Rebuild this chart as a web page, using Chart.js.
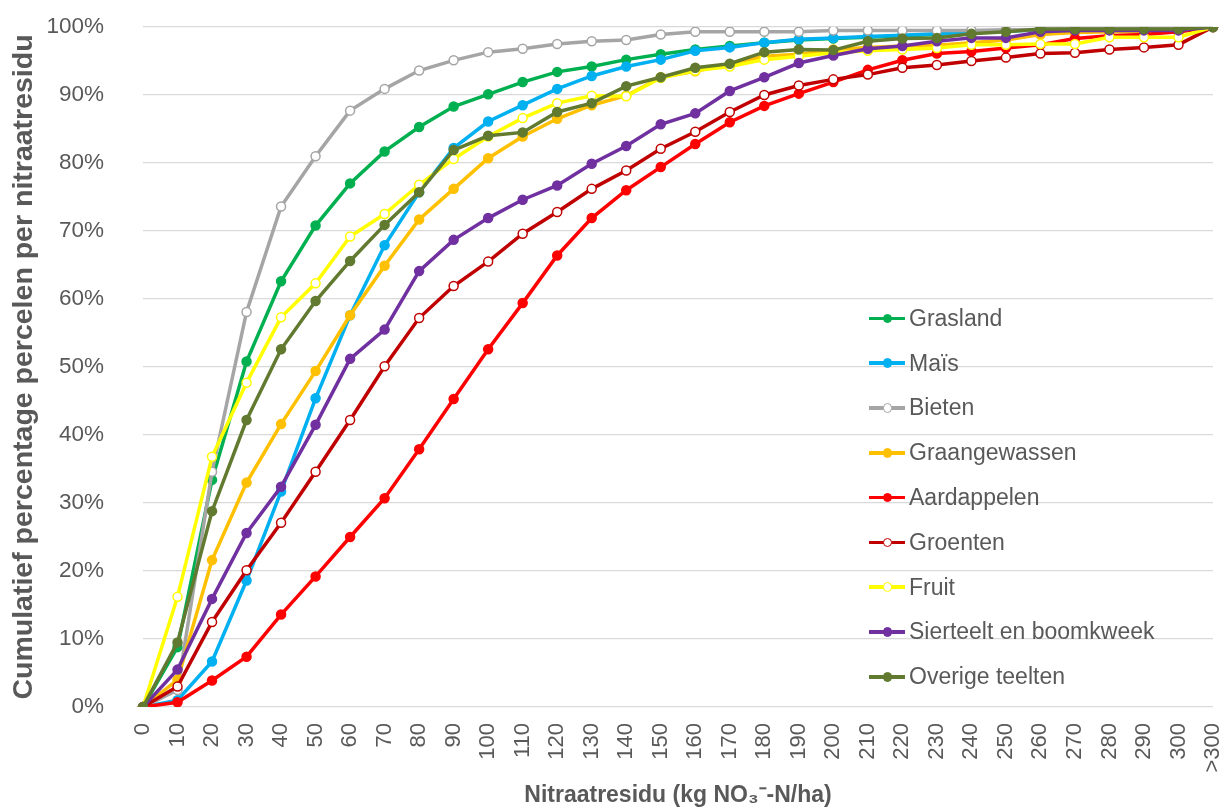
<!DOCTYPE html>
<html>
<head>
<meta charset="utf-8">
<title>Nitraatresidu per teelt</title>
<script src="https://cdn.jsdelivr.net/npm/chart.js@4.4.1/dist/chart.umd.min.js"></script>
<style>
    html, body { margin: 0; padding: 0; background: #fff; }
    #wrap { position: relative; width: 1219px; height: 809px; overflow: hidden; }
    #legend {
        position: absolute; left: 869px; top: 296px;
        font-family: 'Liberation Sans', Arial, sans-serif; font-size: 23px; color: #595959;
    }
    .legend-item { display: flex; align-items: center; height: 44.8px; white-space: nowrap; }
    .legend-line { position: relative; width: 36px; height: 3.5px; margin-right: 4px; }
    .legend-dot {
        position: absolute; left: 13.5px; top: -3px; width: 9.5px; height: 9.5px;
        border-radius: 50%; box-sizing: border-box; border: 1.5px solid;
    }
</style>
</head>
<body>
<div id="wrap">
    <canvas id="nitraatChart" width="1219" height="809"></canvas>
    <div id="legend"></div>
</div>
<script>
// Categories (kg NO3-N/ha)
const categories = ['0', '10', '20', '30', '40', '50', '60', '70', '80', '90', '100', '110', '120', '130', '140',
    '150', '160', '170', '180', '190', '200', '210', '220', '230', '240', '250', '260', '270', '280', '290', '300', '>300'];

// Cumulative percentage of parcels per crop
const grasland     = [0, 8.8, 33.4, 50.8, 62.6, 70.8, 77.0, 81.7, 85.3, 88.3, 90.1, 91.9, 93.4, 94.2, 95.2, 96.0, 96.7, 97.2, 97.7, 98.1, 98.3, 98.5, 98.7, 98.9, 99.2, 99.4, 99.6, 99.6, 99.6, 99.6, 99.6, 100];
const mais         = [0, 1.0, 6.7, 18.6, 31.7, 45.4, 57.6, 67.9, 75.7, 82.2, 86.1, 88.5, 90.9, 92.8, 94.2, 95.2, 96.5, 97.0, 97.7, 98.2, 98.4, 98.6, 98.8, 99.0, 99.2, 99.4, 99.6, 99.6, 99.6, 99.6, 99.6, 100];
const bieten       = [0, 2.5, 34.6, 58.1, 73.6, 81.0, 87.7, 90.9, 93.6, 95.1, 96.3, 96.8, 97.5, 97.9, 98.1, 98.9, 99.3, 99.3, 99.3, 99.3, 99.5, 99.5, 99.5, 99.5, 99.5, 99.6, 99.6, 99.7, 99.7, 99.7, 99.7, 100];
const graan        = [0, 4.0, 21.6, 33.0, 41.6, 49.4, 57.6, 64.9, 71.7, 76.2, 80.7, 83.9, 86.5, 88.5, 89.9, 92.6, 93.5, 94.5, 95.7, 96.0, 96.7, 97.0, 97.2, 97.3, 97.7, 98.1, 98.9, 99.2, 99.3, 99.3, 99.3, 100];
const aardappelen  = [0, 0.7, 3.9, 7.4, 13.6, 19.2, 25.0, 30.7, 37.9, 45.3, 52.6, 59.4, 66.4, 71.9, 76.0, 79.4, 82.8, 86.0, 88.4, 90.2, 91.9, 93.7, 95.1, 96.1, 96.4, 96.9, 97.4, 98.3, 98.7, 98.9, 99.3, 100];
const groenten     = [0, 3.0, 12.5, 20.1, 27.1, 34.6, 42.2, 50.1, 57.2, 61.9, 65.5, 69.6, 72.8, 76.2, 78.9, 82.1, 84.6, 87.5, 90.0, 91.4, 92.3, 93.0, 94.0, 94.4, 95.0, 95.5, 96.1, 96.2, 96.7, 97.0, 97.4, 100];
const fruit        = [0, 16.2, 36.8, 47.7, 57.3, 62.3, 69.2, 72.5, 76.8, 80.6, 83.9, 86.6, 88.8, 89.9, 89.8, 92.5, 93.6, 94.2, 95.2, 95.7, 96.2, 96.5, 96.7, 96.9, 97.4, 97.4, 97.5, 97.5, 98.5, 98.5, 98.5, 100];
const sierteelt    = [0, 5.5, 15.9, 25.6, 32.4, 41.5, 51.2, 55.5, 64.1, 68.7, 71.9, 74.6, 76.7, 79.9, 82.5, 85.7, 87.3, 90.6, 92.6, 94.7, 95.8, 96.8, 97.2, 97.9, 98.4, 98.4, 99.3, 99.5, 99.5, 99.5, 99.5, 100];
const overige      = [0, 9.5, 28.8, 42.2, 52.6, 59.7, 65.6, 70.9, 75.7, 81.9, 84.0, 84.5, 87.5, 88.8, 91.3, 92.6, 94.0, 94.6, 96.3, 96.7, 96.6, 97.9, 98.3, 98.4, 99.0, 99.3, 99.7, 99.7, 99.7, 99.7, 99.7, 100];

const seriesNames = ['Grasland', 'Maïs', 'Bieten', 'Graangewassen', 'Aardappelen', 'Groenten', 'Fruit', 'Sierteelt en boomkweek', 'Overige teelten'];
const seriesData = [grasland, mais, bieten, graan, aardappelen, groenten, fruit, sierteelt, overige];
const seriesColors = ['#00B050', '#00B0F0', '#A5A5A5', '#FFC000', '#FF0000', '#C00000', '#FFFF00', '#7030A0', '#617A30'];
const hollow = [false, false, true, false, false, true, true, false, false];

document.addEventListener('DOMContentLoaded', function() {
    Chart.defaults.font.family = "'Liberation Sans', Arial, sans-serif";
    Chart.defaults.color = '#595959';

    // Excel draws the last series on top, so reverse the draw order
    const datasets = seriesNames.map(function(name, i) {
        return {
            label: name,
            data: seriesData[i],
            borderColor: seriesColors[i],
            backgroundColor: seriesColors[i],
            borderWidth: 3.5,
            pointRadius: 4.5,
            pointBorderWidth: 1.5,
            pointBorderColor: seriesColors[i],
            pointBackgroundColor: hollow[i] ? '#FFFFFF' : seriesColors[i],
            tension: 0,
            order: seriesNames.length - i
        };
    });

    const chart = new Chart(document.getElementById('nitraatChart'), {
        type: 'line',
        data: { labels: categories, datasets: datasets },
        options: {
            responsive: false,
            animation: false,
            layout: { padding: { top: 27, right: 3, left: 0, bottom: 0 } },
            plugins: {
                legend: { display: false },
                tooltip: { enabled: false }
            },
            scales: {
                x: {
                    offset: false,
                    grid: { display: false, drawTicks: false },
                    border: { display: false },
                    ticks: {
                        autoSkip: false,
                        minRotation: 90,
                        maxRotation: 90,
                        padding: 16,
                        font: { size: 22 },
                        color: '#595959'
                    },
                    title: {
                        display: true,
                        text: 'Nitraatresidu (kg NO\u2083\u207B-N/ha)',
                        font: { size: 23, weight: 'bold' },
                        color: '#595959',
                        padding: { top: 0, bottom: 0 }
                    },
                    afterFit: function(scale) {
                        scale.height = 102;
                        scale.paddingLeft = 0;
                        scale.paddingRight = 0;
                    }
                },
                y: {
                    min: 0,
                    max: 100,
                    grid: { color: '#D9D9D9', lineWidth: 1.3, drawTicks: false },
                    border: { display: false },
                    ticks: {
                        stepSize: 10,
                        padding: 39,
                        font: { size: 22.5 },
                        color: '#595959',
                        callback: function(value) { return value + '%'; }
                    },
                    title: {
                        display: true,
                        text: 'Cumulatief percentage percelen per nitraatresidu',
                        font: { size: 28.5, weight: 'bold' },
                        color: '#595959',
                        padding: { top: 7, bottom: 0 }
                    },
                    afterFit: function(scale) {
                        scale.width = 143;
                        scale.paddingTop = 0;
                        scale.paddingBottom = 0;
                    }
                }
            }
        }
    });

    // Legend inside the plot area
    const legend = document.getElementById('legend');
    chart.data.datasets.forEach(function(ds) {
        const item = document.createElement('div');
        item.classList.add('legend-item');
        item.innerHTML = `
            <div class="legend-line" style="background:${ds.borderColor}">
                <div class="legend-dot" style="background:${ds.pointBackgroundColor};border-color:${ds.borderColor}"></div>
            </div>
            <span>${ds.label}</span>
        `;
        legend.appendChild(item);
    });
});
</script>
</body>
</html>
